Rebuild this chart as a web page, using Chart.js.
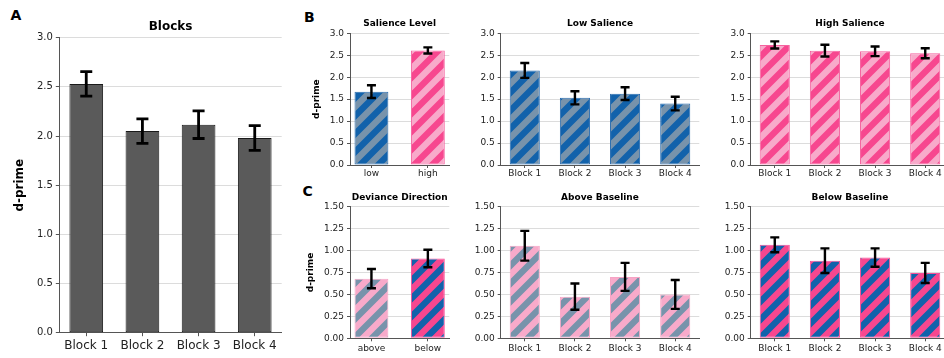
<!DOCTYPE html>
<html><head><meta charset="utf-8">
<script src="https://cdn.jsdelivr.net/npm/chart.js@4.4.1/dist/chart.umd.min.js"></script>
<style>
html,body{margin:0;padding:0;background:#fff;}
#fig{position:relative;width:944px;height:358px;overflow:hidden;background:#fff;}
#fig canvas{position:absolute;}
.lbl{position:absolute;font-family:'DejaVu Sans';font-weight:bold;font-size:14px;line-height:14px;color:#000;}
</style></head><body>
<div id="fig">
<div class="lbl" style="left:10.5px;top:7.5px">A</div>
<div class="lbl" style="left:304px;top:10px">B</div>
<div class="lbl" style="left:302.5px;top:183.5px">C</div>
</div>
<script>
// ---- data ----
const blockLabels = ['Block 1', 'Block 2', 'Block 3', 'Block 4'];
const salienceLabels = ['low', 'high'];
const devianceLabels = ['above', 'below'];

const blocksMean = [2.53, 2.05, 2.115, 1.98];
const blocksErr = [0.125, 0.125, 0.14, 0.125];

const salienceMean = [1.67, 2.61];
const salienceErr = [0.145, 0.07];

const lowSalMean = [2.155, 1.53, 1.625, 1.40];
const lowSalErr = [0.17, 0.15, 0.145, 0.155];

const highSalMean = [2.735, 2.605, 2.59, 2.545];
const highSalErr = [0.08, 0.135, 0.11, 0.115];

const devianceMean = [0.68, 0.91];
const devianceErr = [0.11, 0.10];

const aboveMean = [1.055, 0.475, 0.70, 0.50];
const aboveErr = [0.17, 0.15, 0.16, 0.165];

const belowMean = [1.065, 0.885, 0.92, 0.745];
const belowErr = [0.085, 0.14, 0.105, 0.115];

// ---- styles ----
Chart.defaults.font.family = "'DejaVu Sans'";
const BLUE = '#1262ab', BLUEGRAY = '#7893ab', PINK = '#f7478f', PINKL = '#f8aaca';

function stripe(base, line) {
  const P = 18;
  const c = document.createElement('canvas');
  c.width = P; c.height = P;
  const g = c.getContext('2d');
  g.fillStyle = base; g.fillRect(0, 0, P, P);
  g.strokeStyle = line;
  g.lineWidth = P / (2 * Math.SQRT2);
  g.beginPath();
  g.moveTo(-P, 2 * P); g.lineTo(2 * P, -P);
  g.moveTo(-P, P); g.lineTo(P, -P);
  g.moveTo(0, 2 * P); g.lineTo(2 * P, 0);
  g.stroke();
  return g.createPattern(c, 'repeat');
}
const lowPat = stripe(BLUEGRAY, BLUE);
const highPat = stripe(PINKL, PINK);
const abovePat = stripe(PINKL, BLUEGRAY);
const belowPat = stripe(PINK, BLUE);

const errorBars = {
  id: 'errorBars',
  afterDatasetsDraw(chart, args, o) {
    const { ctx } = chart;
    const x = chart.scales.x, y = chart.scales.y;
    chart.data.datasets.forEach(ds => {
      ds.data.forEach((p, i) => {
        const e = ds.errors[i];
        const px = x.getPixelForValue(p.x);
        const yt = y.getPixelForValue(p.y + e), yb = y.getPixelForValue(p.y - e);
        ctx.save();
        ctx.strokeStyle = '#000'; ctx.lineWidth = o.width; ctx.lineCap = 'butt';
        ctx.beginPath();
        ctx.moveTo(px, yt - o.width / 2); ctx.lineTo(px, yb + o.width / 2);
        ctx.moveTo(px - o.cap / 2, yt); ctx.lineTo(px + o.cap / 2, yt);
        ctx.moveTo(px - o.cap / 2, yb); ctx.lineTo(px + o.cap / 2, yb);
        ctx.stroke();
        ctx.restore();
      });
    });
  }
};

const rowB = { t: 33.3, b: 165, titleY: 24, H: 20 };
const rowC = { t: 206.7, b: 338.3, titleY: 197.3, H: 19 };

const panels = [
  { cats: blockLabels, mean: blocksMean, err: blocksErr, title: 'Blocks', yTitle: 'd-prime', yTitleX: 20,
    l: 59.3, r: 281.7, t: 37.7, b: 332.7, titleY: 26.7, H: 25, yMax: 3, yStep: 0.5, dec: 1,
    titleSize: 12, yTickSize: 10, xTickSize: 12, xPad: 2, tl: 3.5, cap: 12, ew: 2.8,
    fill: () => '#5a5a5a', edge: () => '#1a1a1a' },
  { cats: salienceLabels, mean: salienceMean, err: salienceErr, title: 'Salience Level', yTitle: 'd-prime', yTitleX: 316,
    l: 350, r: 449.3, ...rowB, yMax: 3, yStep: 0.5, dec: 1,
    fill: i => [lowPat, highPat][i], edge: i => ['#2a6cae', '#f5629f'][i] },
  { cats: blockLabels, mean: lowSalMean, err: lowSalErr, title: 'Low Salience',
    l: 500.7, r: 699.3, ...rowB, yMax: 3, yStep: 0.5, dec: 1,
    fill: () => lowPat, edge: () => '#2a6cae' },
  { cats: blockLabels, mean: highSalMean, err: highSalErr, title: 'High Salience',
    l: 750.7, r: 949.3, ...rowB, yMax: 3, yStep: 0.5, dec: 1,
    fill: () => highPat, edge: () => '#f5629f' },
  { cats: devianceLabels, mean: devianceMean, err: devianceErr, title: 'Deviance Direction', yTitle: 'd-prime', yTitleX: 310.3,
    l: 350, r: 449.3, ...rowC, yMax: 1.5, yStep: 0.25, dec: 2, xPad: 1.5,
    fill: i => [abovePat, belowPat][i], edge: i => ['#f6a3c5', '#f5509a'][i] },
  { cats: blockLabels, mean: aboveMean, err: aboveErr, title: 'Above Baseline',
    l: 500.7, r: 699.3, ...rowC, yMax: 1.5, yStep: 0.25, dec: 2, xPad: 1.5,
    fill: () => abovePat, edge: () => '#f6a3c5' },
  { cats: blockLabels, mean: belowMean, err: belowErr, title: 'Below Baseline',
    l: 750.7, r: 949.3, ...rowC, yMax: 1.5, yStep: 0.25, dec: 2, xPad: 1.5,
    fill: () => belowPat, edge: () => '#f5509a' },
];

const fig = document.getElementById('fig');
panels.forEach(p => {
  const titleSize = p.titleSize || 9;
  const lh = titleSize * 1.2;
  const yTickSize = p.yTickSize || 9, xTickSize = p.xTickSize || 9;
  const tl = p.tl || 3;
  const cl = p.yTitle ? Math.round(p.yTitleX - lh / 2) : Math.round(p.l - 40);
  const W = p.l - cl;
  const ct = Math.floor(p.titleY - lh / 2 - 2);
  const pt = p.titleY - lh / 2 - ct;
  const pb = p.t - p.titleY - lh / 2;
  const cw = Math.ceil(p.r + 8 - cl);
  const padR = cw - (p.r - cl);
  const ch = Math.ceil(p.b + p.H - ct);
  const H = ch - (p.b - ct);
  const cv = document.createElement('canvas');
  cv.width = cw; cv.height = ch;
  cv.style.left = cl + 'px'; cv.style.top = ct + 'px';
  cv.style.width = cw + 'px'; cv.style.height = ch + 'px';
  fig.appendChild(cv);
  const n = p.cats.length;
  const span = (n - 1) + 0.6;
  const xMin = -0.3 - 0.05 * span, xMax = (n - 1) + 0.3 + 0.05 * span;
  new Chart(cv.getContext('2d'), {
    type: 'bar',
    data: {
      datasets: [{
        data: p.mean.map((m, i) => ({ x: i, y: m })),
        errors: p.err,
        backgroundColor: p.mean.map((_, i) => p.fill(i)),
        borderColor: p.mean.map((_, i) => p.edge(i)),
        borderWidth: 1,
        borderSkipped: false,
        categoryPercentage: 0.6,
        barPercentage: 1.0,
      }]
    },
    options: {
      responsive: false,
      animation: false,
      devicePixelRatio: 1,
      layout: { padding: { left: 0, top: 0, bottom: 0, right: padR }, autoPadding: false },
      events: [],
      plugins: {
        legend: { display: false },
        tooltip: { enabled: false },
        title: {
          display: true, text: p.title, fullSize: false, color: '#000',
          font: { size: titleSize, weight: 'bold' },
          padding: { top: pt, bottom: pb }
        },
        errorBars: { width: p.ew || 2.4, cap: p.cap || 9 }
      },
      scales: {
        x: {
          type: 'linear', min: xMin, max: xMax, offset: false,
          afterBuildTicks: s => { s.ticks = p.cats.map((_, i) => ({ value: i })); },
          afterFit: s => { s.height = H; },
          ticks: {
            autoSkip: false, maxRotation: 0, minRotation: 0,
            padding: p.xPad !== undefined ? p.xPad : 0,
            color: '#222', font: { size: xTickSize },
            callback: v => p.cats[v]
          },
          grid: { offset: false, drawOnChartArea: false, drawTicks: true, tickLength: tl, tickColor: '#555', tickWidth: 1 },
          border: { display: true, color: '#555', width: 1 }
        },
        y: {
          type: 'linear', min: 0, max: p.yMax,
          afterFit: s => { s.width = W; },
          ticks: {
            stepSize: p.yStep, padding: 3, color: '#222', font: { size: yTickSize },
            callback: v => Number(v).toFixed(p.dec)
          },
          grid: { color: '#dcdcdc', lineWidth: 1, drawTicks: true, tickLength: tl, tickColor: '#555', tickWidth: 1 },
          border: { display: true, color: '#555', width: 1 },
          title: p.yTitle ? { display: true, text: p.yTitle, color: '#000', font: { size: titleSize, weight: 'bold' }, padding: 0 } : { display: false }
        }
      }
    },
    plugins: [errorBars]
  });
});
</script>
</body></html>
